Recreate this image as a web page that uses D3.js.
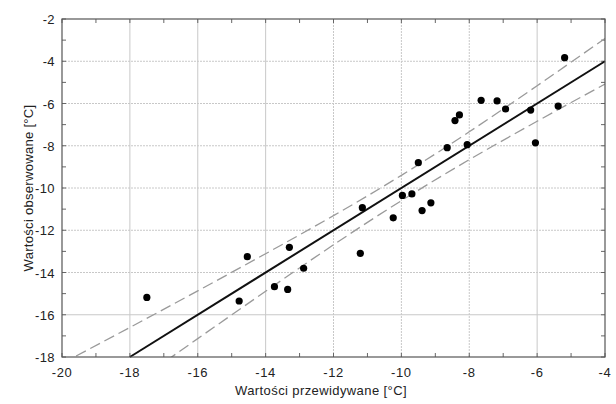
<!DOCTYPE html>
<html>
<head>
<meta charset="utf-8">
<script src="https://cdn.jsdelivr.net/npm/d3@7"></script>
<style>
  body { margin: 0; background: #fff; }
  svg { font-family: "Liberation Sans", Arial, sans-serif; }
</style>
</head>
<body>
<svg id="chart"></svg>
<script>
// Observed vs predicted values
const predicted = [-17.50, -14.78, -14.54, -13.74, -13.35, -13.30, -12.88, -11.21, -11.15, -10.24,
  -9.97, -9.69, -9.50, -9.39, -9.13, -8.65, -8.42, -8.29, -8.06, -7.65,
  -7.18, -6.93, -6.19, -6.05, -5.38, -5.19];
const observed = [-15.18, -15.35, -13.25, -14.67, -14.80, -12.81, -13.80, -13.09, -10.93, -11.41,
  -10.35, -10.28, -8.80, -11.07, -10.70, -8.09, -6.81, -6.54, -7.95, -5.85,
  -5.88, -6.26, -6.31, -7.86, -6.12, -3.83];

// Fit line and confidence band
const fitX = [-18, -4];
const fitY = [-18, -4];
const bandX = [-20, -18, -16, -14, -12, -10, -8, -6, -4];
const bandUpper = [-18.31, -16.60, -14.87, -13.11, -11.31, -9.40, -7.34, -5.16, -2.92];
const bandLower = [-21.69, -19.40, -17.13, -14.89, -12.69, -10.60, -8.66, -6.84, -5.08];

const xTicks = [-20, -18, -16, -14, -12, -10, -8, -6, -4];
const yTicks = [-2, -4, -6, -8, -10, -12, -14, -16, -18];
const minorTicks = d3.range(-20, -3);

const W = 616, H = 404;
const margin = { top: 19, right: 11, bottom: 47, left: 62 };
const width = W - margin.left - margin.right;
const height = H - margin.top - margin.bottom;

const svg = d3.select("#chart").attr("width", W).attr("height", H);
const g = svg.append("g").attr("transform", "translate(" + margin.left + "," + margin.top + ")");

const x = d3.scaleLinear().domain([-20, -4]).range([0, width]);
const y = d3.scaleLinear().domain([-18, -2]).range([height, 0]);

// clip for lines
g.append("clipPath").attr("id", "clip")
  .append("rect").attr("width", width).attr("height", height);

// grid
const solidX = [-18, -16, -14, -6];
const solidY = [-16];
g.append("g").selectAll("line").data(xTicks.slice(1, -1)).join("line")
  .attr("x1", d => x(d)).attr("x2", d => x(d))
  .attr("y1", 0).attr("y2", height)
  .attr("stroke", "#c8c8c8")
  .attr("stroke-dasharray", d => solidX.includes(d) ? null : "2,1");
g.append("g").selectAll("line").data(yTicks.slice(1, -1)).join("line")
  .attr("y1", d => y(d)).attr("y2", d => y(d))
  .attr("x1", 0).attr("x2", width)
  .attr("stroke", "#c8c8c8")
  .attr("stroke-dasharray", d => solidY.includes(d) ? null : "2,1");

// inner ticks on all sides
const tk = 4;
const ticksG = g.append("g").attr("stroke", "#666");
minorTicks.forEach(v => {
  ticksG.append("line").attr("x1", x(v)).attr("x2", x(v)).attr("y1", height).attr("y2", height - tk);
  ticksG.append("line").attr("x1", x(v)).attr("x2", x(v)).attr("y1", 0).attr("y2", tk);
});
d3.range(-18, -1).forEach(v => {
  ticksG.append("line").attr("y1", y(v)).attr("y2", y(v)).attr("x1", 0).attr("x2", tk);
  ticksG.append("line").attr("y1", y(v)).attr("y2", y(v)).attr("x1", width).attr("x2", width - tk);
});

// confidence band
const band = d3.line().x(d => x(d[0])).y(d => y(d[1])).curve(d3.curveNatural);
[bandUpper, bandLower].forEach(arr => {
  g.append("path")
    .attr("clip-path", "url(#clip)")
    .attr("d", band(bandX.map((v, i) => [v, arr[i]])))
    .attr("fill", "none")
    .attr("stroke", "#9a9a9a")
    .attr("stroke-width", 1.3)
    .attr("stroke-dasharray", "11,5");
});

// fit line
g.append("line")
  .attr("x1", x(fitX[0])).attr("y1", y(fitY[0]))
  .attr("x2", x(fitX[1])).attr("y2", y(fitY[1]))
  .attr("stroke", "#111").attr("stroke-width", 2);

// points
g.selectAll(".pt").data(predicted).join("circle")
  .attr("class", "pt")
  .attr("cx", d => x(d))
  .attr("cy", (d, i) => y(observed[i]))
  .attr("r", 3.6)
  .attr("fill", "#000");

// frame
g.append("rect").attr("width", width).attr("height", height)
  .attr("fill", "none").attr("stroke", "#555").attr("stroke-width", 1.2);

// tick labels
g.append("g").selectAll("text").data(xTicks).join("text")
  .attr("x", d => x(d)).attr("y", height + 20)
  .attr("text-anchor", "middle")
  .style("font-size", "13px").style("letter-spacing", "0.6px").attr("fill", "#222")
  .text(d => d);
g.append("g").selectAll("text").data(yTicks).join("text")
  .attr("x", -7).attr("y", d => y(d) + 5)
  .attr("text-anchor", "end")
  .style("font-size", "13px").style("letter-spacing", "0.4px").attr("fill", "#222")
  .text(d => d);

// axis titles
svg.append("text")
  .attr("x", 321).attr("y", 395)
  .attr("text-anchor", "middle")
  .style("font-size", "13px").style("letter-spacing", "0.4px").attr("fill", "#222")
  .text("Wartości przewidywane [°C]");
svg.append("text")
  .attr("transform", "translate(33," + (margin.top + height / 2) + ") rotate(-90)")
  .attr("text-anchor", "middle")
  .style("font-size", "13px").style("letter-spacing", "0.3px").attr("fill", "#222")
  .text("Wartości obserwowane [°C]");
</script>
</body>
</html>
